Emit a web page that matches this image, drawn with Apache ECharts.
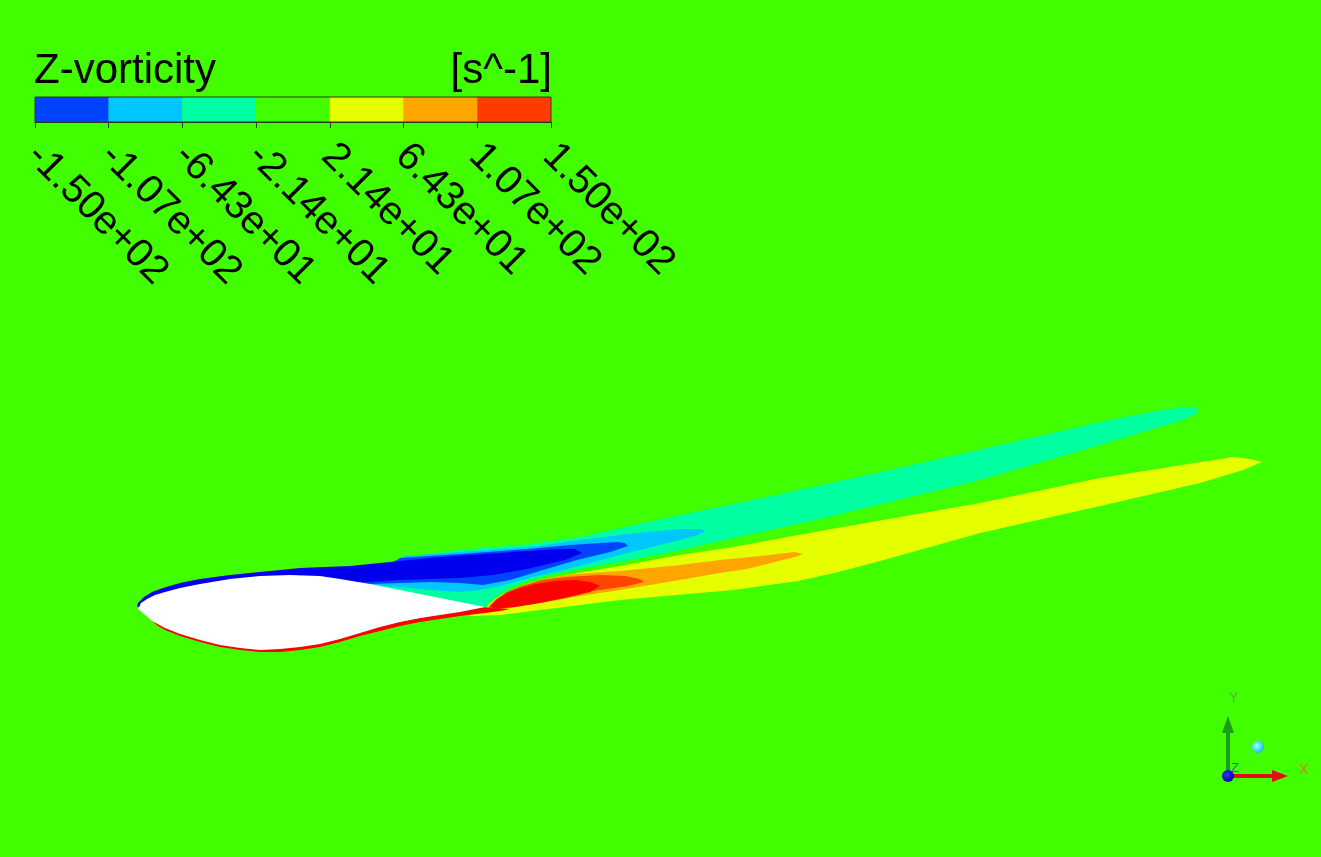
<!DOCTYPE html>
<html>
<head>
<meta charset="utf-8">
<title>Z-vorticity</title>
<script src="https://cdn.jsdelivr.net/npm/echarts@6/dist/echarts.min.js"></script>
<style>
  html, body { margin: 0; padding: 0; background: #42ff00; }
  #main { width: 1321px; height: 857px; }
</style>
</head>
<body>
<div id="main"></div>
<script>
// colour bar (s^-1)
var levelLabels = ['-1.50e+02', '-1.07e+02', '-6.43e+01', '-2.14e+01', '2.14e+01', '6.43e+01', '1.07e+02', '1.50e+02'];
var bandColors = ['#0043ff', '#00c5ff', '#00ffa2', '#42ff00', '#e5ff00', '#ffa500', '#ff3c00'];

// contour bands, x / y in mm from the leading edge (chord 347 mm)
var tealBand = [[277,51],[322,57],[392,63],[442,70],[482,79],[542,92],[615,107],[752,137],[862,162],[962,185],[1012,195],[1045,200],[1058,200],[1060,194],
  [1045,187],[962,162],[842,127],[682,88],[542,57],[482,45],[432,36],[412,32],[392,27],[377,21],[362,13],[352,5],[347,0],[282,7],[212,17]];
var lightBlueBand = [[267,51],[322,55],[392,60],[442,67],[489,73],[542,78],[562,78],[568,76],
  [557,71],[542,67],[522,62],[482,52],[452,44],[422,36],[392,29],[362,21],[342,17],[322,15],[292,17],[262,20],[232,22],[217,24],[202,12]];
var blueBand = [[262,49],[322,53],[389,58],[432,62],[479,65],[487,64],[490,61],
  [472,55],[439,47],[405,37],[372,27],[345,22],[322,24],[292,25],[262,24],[232,23],[212,23],[202,12]];
var darkBlueBand = [[-1,1],[0,4],[6,10],[14,15],[25,19],[42,24],[62,28],[92,32],[122,35],[162,39],[212,41],[262,46],[302,50],[332,52],[389,56],[422,58],[437,58],[444,54],
  [427,47],[389,38],[355,32],[322,29],[292,28],[262,27],[232,25],[212,24],[192,12],[12,0],[2,-1]];
var yellowBand = [[348,-1],[352,4],[362,11],[377,18],[392,24],[412,29],[434,33],[482,41],[542,52],[595,60],[682,76],[842,104],[962,129],[1095,150],[1112,148],[1124,145],
  [1105,137],[1062,124],[962,101],[842,74],[742,46],[700,35],[660,26],[595,17],[482,7],[402,-3],[362,-8],[332,-9],[322,-1]];
var orangeBand = [[350,0],[356,6],[366,13],[381,20],[396,25],[416,30],[437,33],[482,36],[542,42],[582,47],[622,51],[657,55],[665,53],
  [657,50],[609,38],[582,34],[542,27],[482,17],[442,11],[402,4],[372,-1],[352,-3]];
var redOrangeBand = [[351,0],[358,7],[369,15],[384,21],[404,27],[429,30],[462,32],[487,31],[502,28],[506,25],
  [490,21],[462,17],[432,13],[402,7],[372,1],[352,-2]];
var redBand = [[352,1],[359,8],[369,14],[382,19],[397,23],[417,26],[437,27],[452,25],[462,21],
  [452,15],[427,9],[402,4],[377,0],[357,-2]];
var redSkin = [[14,-14],[20,-19],[27,-23],[42,-29],[62,-35],[82,-40],[102,-43],[122,-45],[142,-45],[162,-43],[182,-40],[202,-35],[222,-29],[242,-24],[262,-19],[282,-15],[302,-12],[322,-9],[347,-6],[362,-4],[372,-2],
  [342,0],[162,-33],[16,-10]];
var airfoil = [[0,-2],[3,4],[9,8],[17,12],[27,15],[42,19],[62,23],[92,28],[122,31],[152,32],[182,31],[202,28],[232,23],[262,17],[292,11],[322,5],[347,0],
  [322,-5],[302,-8],[282,-11],[262,-15],[242,-20],[222,-26],[202,-32],[182,-37],[162,-40],[142,-42],[122,-43],[102,-41],[82,-38],[62,-33],[42,-27],[27,-21],[14,-14],[5,-6]];

var regions = [
  { pts: tealBand, color: '#00ffa0' },
  { pts: lightBlueBand, color: '#00c8ff' },
  { pts: blueBand, color: '#0044ff' },
  { pts: darkBlueBand, color: '#0000ee' },
  { pts: yellowBand, color: '#e6ff00' },
  { pts: orangeBand, color: '#ffa500' },
  { pts: redOrangeBand, color: '#ff4500' },
  { pts: redBand, color: '#ff0000' },
  { pts: redSkin, color: '#ff0000' },
  { pts: airfoil, color: '#ffffff' }
];

var chart = echarts.init(document.getElementById('main'));
var font = 'Liberation Sans, Arial, sans-serif';

var option = {
  animation: false,
  backgroundColor: '#42ff00',
  title: [
    { text: 'Z-vorticity', left: 34, top: 50, padding: 0,
      textStyle: { fontSize: 42, fontWeight: 'normal', fontFamily: font, color: '#000' } },
    { text: '[s^-1]', right: 769, top: 50, padding: 0,
      textStyle: { fontSize: 42, fontWeight: 'normal', fontFamily: font, color: '#000' } }
  ],
  grid: [
    { left: 0, right: 0, top: 0, bottom: 0, outerBoundsMode: 'none' },
    { left: 35, top: 97, width: 516, height: 25, show: true, z: 10,
      backgroundColor: 'transparent', borderColor: '#2a3a20', borderWidth: 1, outerBoundsMode: 'none' },
    // labels of the colour bar sit a little left of their ticks
    { left: 33, top: 97, width: 516, height: 25, outerBoundsMode: 'none' }
  ],
  xAxis: [
    { type: 'value', min: -138, max: 1183, show: false, gridIndex: 0 },
    { type: 'category', gridIndex: 1, data: levelLabels, boundaryGap: false, z: 10,
      axisLine: { show: true, lineStyle: { color: '#2a3a20', width: 1 } },
      axisTick: { show: true, length: 6, lineStyle: { color: '#2a3a20', width: 1 } },
      axisLabel: { show: false },
      splitLine: { show: false } },
    { type: 'category', gridIndex: 2, data: levelLabels, boundaryGap: false,
      axisLine: { show: false }, axisTick: { show: false }, splitLine: { show: false },
      axisLabel: { interval: 0, rotate: -45, margin: 28, hideOverlap: false,
        fontSize: 40, fontFamily: font, color: '#000' } }
  ],
  yAxis: [
    { type: 'value', min: -250, max: 607, show: false, gridIndex: 0 },
    { type: 'value', min: 0, max: 1, show: false, gridIndex: 1 },
    { type: 'value', min: 0, max: 1, show: false, gridIndex: 2 }
  ],
  series: [
    {
      type: 'custom',
      xAxisIndex: 0, yAxisIndex: 0,
      clip: false,
      data: regions.map(function (r, i) { return [r.pts[0][0], r.pts[0][1], i]; }),
      renderItem: function (params, api) {
        var r = regions[api.value(2)];
        return {
          type: 'polygon',
          shape: { points: r.pts.map(function (p) { return api.coord(p); }) },
          style: { fill: r.color }
        };
      }
    },
    {
      type: 'custom',
      xAxisIndex: 1, yAxisIndex: 1,
      z: 3,
      data: bandColors.map(function (c, i) { return [i, 0]; }),
      renderItem: function (params, api) {
        var i = api.value(0);
        var a = api.coord([i, 1]);
        var b = api.coord([i + 1, 0]);
        return {
          type: 'rect',
          shape: { x: a[0], y: a[1], width: b[0] - a[0], height: b[1] - a[1] },
          style: { fill: bandColors[i] }
        };
      }
    }
  ],
  graphic: [
    // view triad
    { type: 'line', shape: { x1: 1228, y1: 776, x2: 1228, y2: 731 }, style: { stroke: '#1c9c1c', lineWidth: 4 } },
    { type: 'polygon', shape: { points: [[1222, 733], [1228, 716], [1234, 733]] }, style: { fill: '#1c9c1c' } },
    { type: 'line', shape: { x1: 1228, y1: 776, x2: 1274, y2: 776 }, style: { stroke: '#e01010', lineWidth: 4 } },
    { type: 'polygon', shape: { points: [[1272, 770], [1288, 776], [1272, 782]] }, style: { fill: '#e01010' } },
    { type: 'circle', shape: { cx: 1228, cy: 776, r: 6 },
      style: { fill: { type: 'radial', x: 0.4, y: 0.4, r: 0.7, colorStops: [{ offset: 0, color: '#3030ff' }, { offset: 1, color: '#000090' }] } } },
    { type: 'circle', shape: { cx: 1258, cy: 747, r: 6 },
      style: { fill: { type: 'radial', x: 0.4, y: 0.4, r: 0.7, colorStops: [{ offset: 0, color: '#a0ffff' }, { offset: 1, color: '#00b8d8' }] } } },
    { type: 'text', left: 1229, top: 691, style: { text: 'Y', font: '14px ' + font, fill: '#50b040' } },
    { type: 'text', left: 1299, top: 763, style: { text: 'X', font: '14px ' + font, fill: '#d87a20' } },
    { type: 'text', left: 1231, top: 762, style: { text: 'Z', font: '13px ' + font, fill: '#4060c0' } }
  ]
};

chart.setOption(option);
</script>
</body>
</html>
